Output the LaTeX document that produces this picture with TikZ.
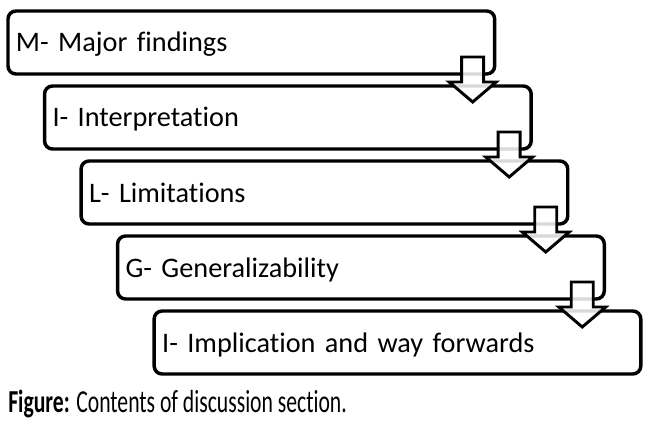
\documentclass[tikz,border=0pt]{standalone}
\usepackage{fontspec}
\setmainfont{Carlito}[Ligatures=NoCommon]
\usepackage{graphicx}
\usetikzlibrary{positioning}

\tikzset{
  stage/.style={draw, line width=2.6pt, rounded corners=6pt, outer sep=0pt,
    minimum height=47.25pt, text width=353pt, inner xsep=6pt, align=left,
    text height=18pt, text depth=3.75pt, font=\fontsize{21.2}{26}\selectfont},
  downarrow/.style={draw, line width=2.2pt, line join=miter, fill=white, fill opacity=0.85}
}

\begin{document}
\begin{tikzpicture}[node distance = 9pt and 27.4pt]
\useasboundingbox (0,0) rectangle (487.5pt,-321pt);
\node[stage, anchor=north west] (M) at (6pt,-8.25pt) {M- Major findings};
\node[stage, below right=of M.south west] (I1) {I- Interpretation};
\node[stage, below right=of I1.south west] (L) {L- Limitations};
\node[stage, below right=of L.south west] (G) {G- Generalizability};
\node[stage, below right=of G.south west] (I2) {I- Implication and way forwards};
% block arrows on top of the boxes
\foreach \n in {M,I1,L,G}
  \draw[downarrow] ([shift={(-24.75pt,12.75pt)}]\n.south east) -- ++(0,-18.75pt)
    -- ++(-9.35pt,0) -- ++(17.6pt,-15pt) -- ++(17.6pt,15pt) -- ++(-9.35pt,0)
    -- ++(0,18.75pt) -- cycle;
\node[anchor=base west, inner sep=0pt] (cap) at (6pt,-309pt)
  {\resizebox{254pt}{\height}{\fontsize{24}{26}\selectfont\textbf{Figure:} Contents of discussion section.}};
\end{tikzpicture}
\end{document}
